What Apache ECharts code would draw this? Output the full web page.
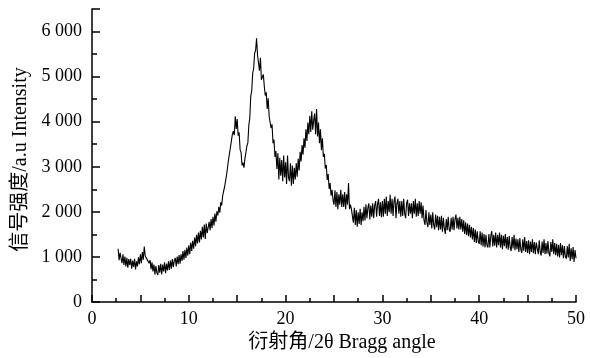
<!DOCTYPE html>
<html>
<head>
<meta charset="utf-8">
<script src="https://cdn.jsdelivr.net/npm/echarts@6/dist/echarts.min.js"></script>
<style>
  html, body { margin: 0; padding: 0; background: #fff; }
  #chart { width: 590px; height: 358px; }
</style>
</head>
<body>
<div id="chart"></div>
<script>
// 2θ sampling: first angle and step of the scan
const angleStart = 2.7
const angleStep = 0.1

// signal intensity, one row per degree
const intensity = [
  1180, 930, 1090,
  1120, 860, 1060, 820, 1010, 790, 980, 760, 950, 820,
  960, 740, 920, 780, 960, 720, 900, 790, 990, 840,
  1060, 860, 1110, 940, 1230, 1020, 1060, 940, 960, 860,
  930, 730, 880, 680, 830, 610, 800, 650, 600, 820,
  650, 850, 610, 830, 680, 880, 640, 850, 700, 900,
  710, 920, 740, 950, 770, 920, 980, 790, 1010, 840,
  1040, 850, 1060, 910, 1130, 940, 1160, 980, 1210, 1030,
  1260, 1060, 1320, 1130, 1360, 1180, 1430, 1240, 1490, 1300,
  1540, 1320, 1580, 1390, 1670, 1430, 1720, 1400, 1740, 1530,
  1540, 1780, 1590, 1840, 1640, 1890, 1700, 1960, 1780, 2010,
  1920, 2110, 1980, 2210, 2140, 2360, 2320, 2560, 2560, 2820,
  2850, 3150, 3130, 3430, 3420, 3720, 3790, 3700, 4120, 3840,
  4060, 3690, 3760, 3380, 3320, 3030, 3090, 2980, 3180, 3200,
  3460, 3530, 3920, 4080, 4570, 4680, 5080, 5180, 5520, 5580,
  5850, 5480, 5460, 5130, 5420, 4930, 4970, 5050, 4780, 4580,
  4650, 4280, 4520, 4120, 4130, 3860, 3940, 3520, 3600, 3220,
  3350, 2950, 3300, 2720, 3200, 2800, 3150, 2680, 3250, 2760,
  3100, 2620, 3250, 2760, 2680, 3080, 2580, 3030, 2620, 2980,
  2720, 3080, 2780, 3180, 2920, 3330, 3120, 3480, 3270, 3630,
  3420, 3830, 3570, 3980, 3720, 4130, 3770, 4230, 3820, 4030,
  4180, 3720, 4280, 3670, 3980, 3520, 3830, 3370, 3630, 3220,
  3290, 2960, 3040, 2710, 2840, 2510, 2640, 2360, 2490, 2260,
  2160, 2480, 2110, 2440, 2060, 2390, 2160, 2490, 2110, 2390,
  2110, 2440, 2060, 2390, 2160, 2640, 2060, 2160, 2060, 2040,
  1760, 2090, 1710, 2040, 1670, 1990, 1730, 2070, 1710, 1990,
  1790, 2110, 1810, 2170, 1860, 2090, 2190, 1830, 2140, 1890,
  2190, 1860, 2140, 2240, 1890, 2170, 2290, 1910, 2210, 1880,
  2240, 1890, 2290, 1960, 2340, 1910, 2240, 1990, 2380, 1960,
  2290, 1910, 2240, 2340, 1860, 2190, 2290, 1960, 2240, 1890,
  2240, 1910, 2290, 1960, 1860, 2190, 2270, 1910, 2190, 1960,
  2190, 1860, 2240, 1960, 2290, 1890, 2190, 1910, 2240, 1960,
  2210, 1860, 2140, 1810, 1710, 2040, 1760, 1660, 1990, 1710,
  1940, 1630, 1990, 1710, 1610, 1940, 1660, 1910, 1590, 1890,
  1610, 1910, 1560, 1870, 1630, 1510, 1840, 1590, 1890, 1610,
  1560, 1870, 1610, 1890, 1590, 1840, 1940, 1630, 1870, 1610,
  1890, 1610, 1840, 1560, 1810, 1510, 1770, 1490, 1740, 1460,
  1710, 1430, 1670, 1390, 1640, 1330, 1610, 1310, 1570, 1340,
  1290, 1570, 1260, 1540, 1230, 1510, 1210, 1490, 1260, 1210,
  1510, 1210, 1470, 1570, 1230, 1490, 1250, 1540, 1210, 1490,
  1260, 1540, 1210, 1490, 1170, 1470, 1240, 1510, 1190, 1440,
  1160, 1470, 1210, 1130, 1440, 1190, 1490, 1150, 1410, 1170,
  1390, 1110, 1420, 1160, 1090, 1390, 1140, 1440, 1110, 1350,
  1090, 1370, 1060, 1340, 1110, 1390, 1080, 1330, 1060, 1320,
  1340, 1060, 1370, 1110, 1030, 1340, 1090, 1390, 1060, 1310,
  1070, 1350, 1090, 1010, 1330, 1110, 1390, 1060, 1310, 1040,
  1290, 1010, 1270, 990, 1310, 1040, 1260, 970, 1240, 1010,
  960, 1240, 990, 1290, 910, 1190, 950, 1220, 890, 1150,
  970
]

const points = intensity.map((v, i) => [Math.round((angleStart + i * angleStep) * 10) / 10, v])

const font = '"Liberation Serif", "Times New Roman", "Noto Sans CJK SC", serif'

const chart = echarts.init(document.getElementById('chart'))
const option = {
  animation: false,
  grid: { left: 92, right: 14, top: 9, bottom: 56 },
  xAxis: {
    type: 'value',
    min: 0,
    max: 50,
    interval: 5,
    name: '衍射角/2θ Bragg angle',
    nameLocation: 'middle',
    nameGap: 29,
    nameTextStyle: { fontFamily: font, fontSize: 20, color: '#000', padding: [0, 0, 0, 16] },
    axisLine: { lineStyle: { color: '#000', width: 1.5 } },
    axisTick: { inside: true, length: 7, lineStyle: { color: '#000', width: 1.5 } },
    minorTick: { show: true, splitNumber: 2, length: 4, lineStyle: { color: '#000', width: 1.5 } },
    axisLabel: {
      margin: 8,
      fontFamily: font, fontSize: 18, color: '#000',
      formatter: v => (v % 10 === 0 ? String(v) : '')
    },
    splitLine: { show: false }
  },
  yAxis: {
    type: 'value',
    min: 0,
    max: 6500,
    interval: 1000,
    name: '信号强度/a.u Intensity',
    nameLocation: 'middle',
    nameGap: 61,
    nameTextStyle: { fontFamily: font, fontSize: 20, color: '#000', padding: [0, 8, 0, 0] },
    axisLine: { show: true, lineStyle: { color: '#000', width: 1.5 } },
    axisTick: { show: true, inside: true, length: 8, lineStyle: { color: '#000', width: 1.5 } },
    minorTick: { show: true, splitNumber: 2, length: 5, lineStyle: { color: '#000', width: 1.5 } },
    axisLabel: {
      margin: 10,
      showMaxLabel: false,
      fontFamily: font, fontSize: 18, color: '#000',
      formatter: v => (v >= 1000 ? Math.floor(v / 1000) + ' ' + String(v % 1000).padStart(3, '0') : String(v))
    },
    splitLine: { show: false }
  },
  series: [{
    type: 'line',
    data: points,
    showSymbol: false,
    lineStyle: { color: '#000', width: 1.1 }
  }]
}
chart.setOption(option)
</script>
</body>
</html>
